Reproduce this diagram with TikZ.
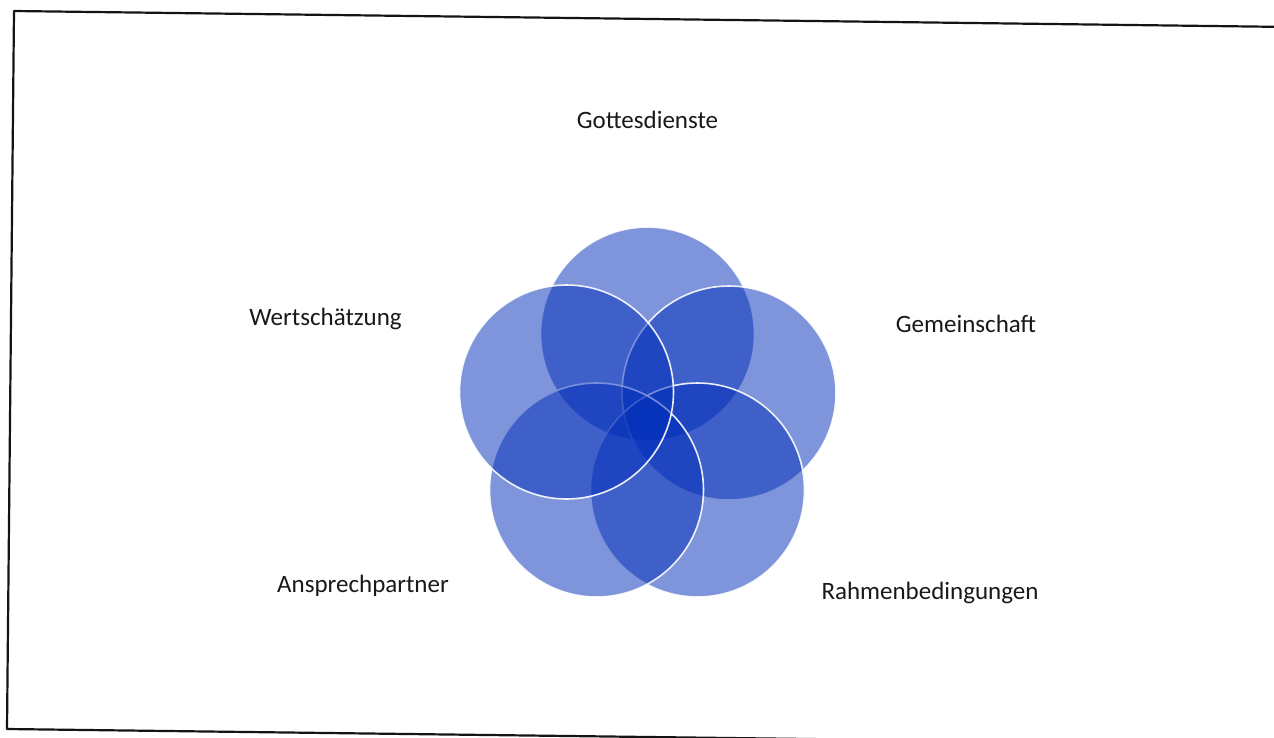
\documentclass[tikz,border=0pt]{standalone}
\usepackage{fontspec}
\setmainfont{Carlito}
\definecolor{vennblue}{RGB}{1,45,185}
\definecolor{framecol}{RGB}{20,20,20}
\tikzset{
  venn/.style={circle, minimum size=214pt, inner sep=0pt, fill=vennblue, fill opacity=0.5, draw=white, draw opacity=0.9, line width=1.6pt},
  lbl/.style={anchor=base, inner sep=0pt, font=\fontsize{25}{30}\selectfont, text=black!90},
  framestyle/.style={draw=framecol, line width=2.2pt, line cap=round, line join=round}
}
\begin{document}
\begin{tikzpicture}[x=1pt,y=-1pt]
\useasboundingbox (0,0) rectangle (1274,737);
\fill[white] (0,0) rectangle (1274,737);
\clip (0,0) rectangle (1274,737);
% scanned frame
\coordinate (tl) at (14,11);
\coordinate (tr) at (1290,27);
\coordinate (bl) at (7,729);
\coordinate (br) at (1290,745);
\draw[framestyle] (tr) -- (tl) -- (bl) -- (br);
% circles (drawn in SmartArt order)
\node[venn] (c1) at (647.5,334) {};
\node[venn] (c2) at (729,393) {};
\node[venn] (c3) at (697.5,490) {};
\node[venn] (c4) at (596.5,490) {};
\node[venn] (c5) at (566.5,392) {};
% labels
\node[lbl] (l1) at (647.5,128) {Gottesdienste};
\node[lbl] (l2) at (966,332) {Gemeinschaft};
\node[lbl] (l3) at (930,599) {Rahmenbedingungen};
\node[lbl] (l4) at (363,592) {Ansprechpartner};
\node[lbl] (l5) at (325.5,325) {Wertschätzung};
\end{tikzpicture}
\end{document}
